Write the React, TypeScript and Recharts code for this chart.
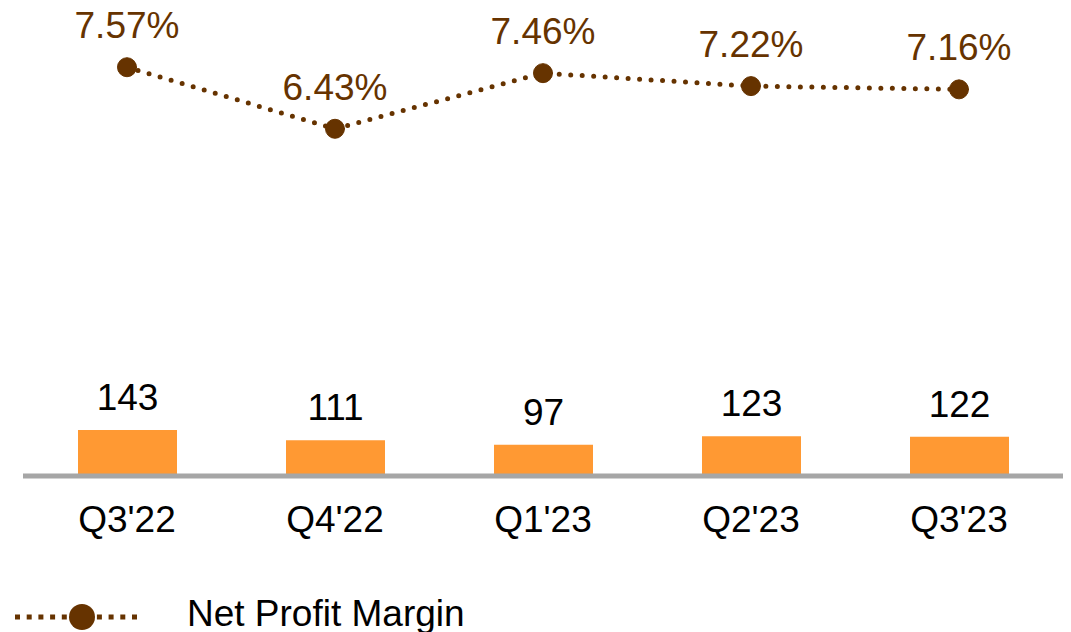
import React from 'react';
import { ComposedChart, Bar, Line, XAxis, YAxis, LabelList } from 'recharts';

const quarters = ["Q3'22", "Q4'22", "Q1'23", "Q2'23", "Q3'23"];
const netProfit = [143, 111, 97, 123, 122];
const netProfitMargin = [7.57, 6.43, 7.46, 7.22, 7.16];

const BROWN = '#663300';
const ORANGE = '#ff9933';
const FONT = '"Liberation Sans", Arial, sans-serif';

const chartData = quarters.map((q, i) => ({
  name: q,
  profit: netProfit[i],
  margin: netProfitMargin[i],
}));

const App = () => {
  return (
    <div style={{ position: 'relative', width: 1071, height: 632, fontFamily: FONT, background: '#fff' }}>
      <style>{`body{margin:0}`}</style>
      <ComposedChart
        width={1071}
        height={632}
        data={chartData}
        margin={{ top: 44, right: 8, bottom: 0, left: 23 }}
      >
        <XAxis
          dataKey="name"
          axisLine={{ stroke: '#a6a6a6', strokeWidth: 5 }}
          tickLine={false}
          tickMargin={24}
          tick={{ fontSize: 37, fill: '#000', fontFamily: FONT }}
          height={156}
        />
        <YAxis yAxisId="bar" hide domain={[0, 1340]} />
        <YAxis yAxisId="pct" hide domain={[0, 8]} />
        <Bar yAxisId="bar" dataKey="profit" fill={ORANGE} barSize={99} isAnimationActive={false}>
          <LabelList
            dataKey="profit"
            position="top"
            offset={20}
            style={{ fontSize: 37, fill: '#000', fontFamily: FONT }}
          />
        </Bar>
        <Line
          yAxisId="pct"
          dataKey="margin"
          stroke={BROWN}
          strokeWidth={5}
          strokeDasharray="0 11.5"
          strokeLinecap="round"
          dot={{ r: 9.5, fill: BROWN, stroke: BROWN, strokeWidth: 1, strokeDasharray: '' }}
          isAnimationActive={false}
        >
          <LabelList
            dataKey="margin"
            position="top"
            offset={29}
            formatter={(v: any) => `${Number(v).toFixed(2)}%`}
            style={{ fontSize: 37, fill: BROWN, fontFamily: FONT }}
          />
        </Line>
      </ComposedChart>
      <div style={{ position: 'absolute', left: 15, top: 602, display: 'flex', alignItems: 'center' }}>
        <svg width={130} height={30}>
          <line x1={0} y1={15} x2={128} y2={15} stroke={BROWN} strokeWidth={5} strokeDasharray="5 6.7" />
          <circle cx={67} cy={15} r={13} fill={BROWN} />
        </svg>
      </div>
      <div
        style={{
          position: 'absolute',
          left: 187,
          top: 594,
          fontSize: 37,
          lineHeight: '40px',
          color: '#000',
          whiteSpace: 'nowrap',
        }}
      >
        Net Profit Margin
      </div>
    </div>
  );
};

export default App;
